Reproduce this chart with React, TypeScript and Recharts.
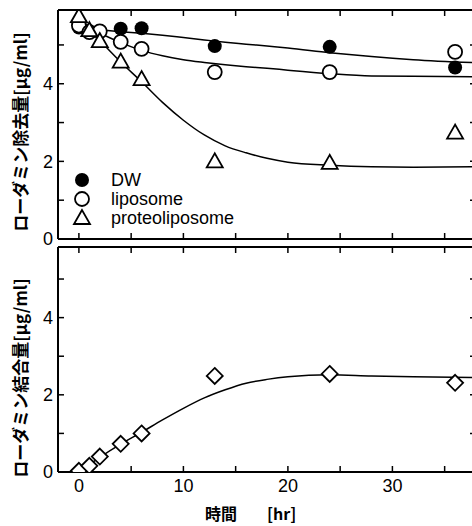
import { ComposedChart, Line, Scatter, XAxis, YAxis } from "recharts"

// sampling times of the measured points [hr]
const hours = [0, 1, 2, 4, 6, 13, 24, 36]
const dwValues = [5.45, 5.35, 5.35, 5.42, 5.43, 4.97, 4.95, 4.42]
const liposomeValues = [5.5, 5.33, 5.35, 5.08, 4.9, 4.3, 4.3, 4.82]
const proteoValues = [5.74, 5.38, 5.1, 4.57, 4.12, 2.0, 1.96, 2.74]
const boundValues = [0.03, 0.16, 0.4, 0.73, 1.0, 2.49, 2.54, 2.31]

// fitted curves
const fitHours = [0, 2, 4, 6, 8, 10, 12, 14, 16, 18, 20, 24, 28, 32, 38]
const dwFit = [5.45, 5.39, 5.34, 5.3, 5.25, 5.19, 5.13, 5.07, 5.02, 4.97, 4.92, 4.8, 4.7, 4.62, 4.54]
const liposomeFit = [5.5, 5.3, 5.06, 4.86, 4.72, 4.62, 4.55, 4.49, 4.44, 4.4, 4.35, 4.26, 4.2, 4.19, 4.18]
const proteoFit = [5.75, 5.12, 4.56, 4.05, 3.52, 3.06, 2.68, 2.4, 2.22, 2.08, 1.98, 1.9, 1.86, 1.85, 1.86]
const boundFit = [0, 0.38, 0.72, 1.03, 1.35, 1.65, 1.92, 2.13, 2.3, 2.4, 2.47, 2.52, 2.49, 2.47, 2.45]

const xTicks = [0, 5, 10, 15, 20, 25, 30, 35]
const xLabels = [0, 10, 20, 30]
const yTicks = [0, 1, 2, 3, 4, 5]
const yLabels = [0, 2, 4]

const toPoints = (xs: number[], ys: number[]) => xs.map((x, i) => ({ x, y: ys[i] }))

const numFont = "'Liberation Sans', Arial, sans-serif"
const jpFont = "'Noto Sans CJK JP', sans-serif"

const FilledCircle = ({ cx, cy }: any) => <circle cx={cx} cy={cy} r={7} fill="#000" />
const OpenCircle = ({ cx, cy }: any) => (
  <circle cx={cx} cy={cy} r={7} fill="#fff" stroke="#000" strokeWidth={1.8} />
)
const Triangle = ({ cx, cy }: any) => (
  <polygon
    points={`${cx},${cy - 8} ${cx - 8},${cy + 6} ${cx + 8},${cy + 6}`}
    fill="#fff"
    stroke="#000"
    strokeWidth={1.8}
  />
)
const Diamond = ({ cx, cy }: any) => (
  <polygon
    points={`${cx},${cy - 8} ${cx + 8},${cy} ${cx},${cy + 8} ${cx - 8},${cy}`}
    fill="#fff"
    stroke="#000"
    strokeWidth={1.8}
  />
)

const axisLine = { stroke: "#000", strokeWidth: 2 }
const tickLine = { stroke: "#000", strokeWidth: 1.5 }
const tickStyle = { fill: "#000", fontSize: 18, fontFamily: numFont }

function Frame({ showXLabels, yMax }: { showXLabels: boolean; yMax: number }) {
  return [
    <XAxis
      key="xb"
      dataKey="x"
      type="number"
      domain={[-2, 38]}
      ticks={xTicks}
      allowDataOverflow
      axisLine={axisLine}
      tickLine={tickLine}
      tickSize={-6}
      tickMargin={13}
      tick={tickStyle}
      tickFormatter={(v: number) => (showXLabels && xLabels.includes(v) ? String(v) : "")}
      height={showXLabels ? 54 : 11}
    />,
    <XAxis
      key="xt"
      xAxisId="top"
      orientation="top"
      dataKey="x"
      type="number"
      domain={[-2, 38]}
      ticks={xTicks}
      allowDataOverflow
      axisLine={axisLine}
      tickLine={tickLine}
      tickSize={-6}
      tickFormatter={() => ""}
      height={10}
    />,
    <YAxis
      key="yl"
      type="number"
      domain={[0, yMax]}
      ticks={yTicks}
      allowDataOverflow
      axisLine={axisLine}
      tickLine={tickLine}
      tickSize={-6}
      tickMargin={11}
      tick={tickStyle}
      tickFormatter={(v: number) => (yLabels.includes(v) ? String(v) : "")}
      width={58}
    />,
    <YAxis
      key="yr"
      yAxisId="right"
      orientation="right"
      type="number"
      domain={[0, yMax]}
      ticks={yTicks}
      allowDataOverflow
      axisLine={axisLine}
      tickLine={tickLine}
      tickSize={-6}
      tickFormatter={() => ""}
      width={4}
    />,
  ]
}

const fitLine = (data: { x: number; y: number }[], key: string) => (
  <Line
    key={key}
    data={data}
    dataKey="y"
    type="monotone"
    stroke="#000"
    strokeWidth={1.5}
    dot={false}
    activeDot={false}
    isAnimationActive={false}
  />
)

const legendItems = [
  { label: "DW", Shape: FilledCircle },
  { label: "liposome", Shape: OpenCircle },
  { label: "proteoliposome", Shape: Triangle },
]

export default function App() {
  return (
    <div
      style={{
        position: "absolute",
        left: 0,
        top: 0,
        width: 472,
        height: 526,
        overflow: "hidden",
        background: "#fff",
      }}
    >
      <div style={{ position: "absolute", left: 0, top: 0 }}>
        <ComposedChart width={480} height={250} margin={{ top: 0, right: 0, bottom: 0, left: 0 }}>
          {Frame({ showXLabels: false, yMax: 5.9 })}
          {fitLine(toPoints(fitHours, dwFit), "dwFit")}
          {fitLine(toPoints(fitHours, liposomeFit), "lipFit")}
          {fitLine(toPoints(fitHours, proteoFit), "proFit")}
          <Scatter data={toPoints(hours, dwValues)} dataKey="y" shape={FilledCircle} isAnimationActive={false} />
          <Scatter data={toPoints(hours, liposomeValues)} dataKey="y" shape={OpenCircle} isAnimationActive={false} />
          <Scatter data={toPoints(hours, proteoValues)} dataKey="y" shape={Triangle} isAnimationActive={false} />
        </ComposedChart>
      </div>

      <div style={{ position: "absolute", left: 0, top: 237 }}>
        <ComposedChart width={480} height={289} margin={{ top: 0, right: 0, bottom: 0, left: 0 }}>
          {Frame({ showXLabels: true, yMax: 5.83 })}
          {fitLine(toPoints(fitHours, boundFit), "boundFit")}
          <Scatter data={toPoints(hours, boundValues)} dataKey="y" shape={Diamond} isAnimationActive={false} />
        </ComposedChart>
      </div>

      {/* legend inside the upper panel */}
      {legendItems.map(({ label, Shape }, i) => (
        <div
          key={label}
          style={{ position: "absolute", left: 72, top: 170 + i * 19, height: 20, display: "flex", alignItems: "center" }}
        >
          <svg width={20} height={20} style={{ display: "block" }}>
            <Shape cx={10} cy={10} />
          </svg>
          <span style={{ marginLeft: 19, fontFamily: numFont, fontSize: 18, lineHeight: "20px", color: "#000" }}>
            {label}
          </span>
        </div>
      ))}

      {/* y axis titles */}
      {[
        { text: "ローダミン除去量[μg/ml]", cy: 132 },
        { text: "ローダミン結合量[μg/ml]", cy: 378 },
      ].map(({ text, cy }) => (
        <div
          key={text}
          style={{
            position: "absolute",
            left: 20 - 130,
            top: cy - 11,
            width: 260,
            height: 22,
            lineHeight: "22px",
            textAlign: "center",
            transform: "rotate(-90deg)",
            fontFamily: jpFont,
            fontWeight: 700,
            fontSize: 17,
            color: "#000",
            whiteSpace: "nowrap",
          }}
        >
          {text}
        </div>
      ))}

      {/* x axis title */}
      <div
        style={{
          position: "absolute",
          left: 205,
          top: 501,
          height: 24,
          lineHeight: "24px",
          fontFamily: jpFont,
          fontWeight: 700,
          fontSize: 16,
          color: "#000",
          whiteSpace: "nowrap",
        }}
      >
        時間<span style={{ marginLeft: 30 }}>[hr]</span>
      </div>
    </div>
  )
}
